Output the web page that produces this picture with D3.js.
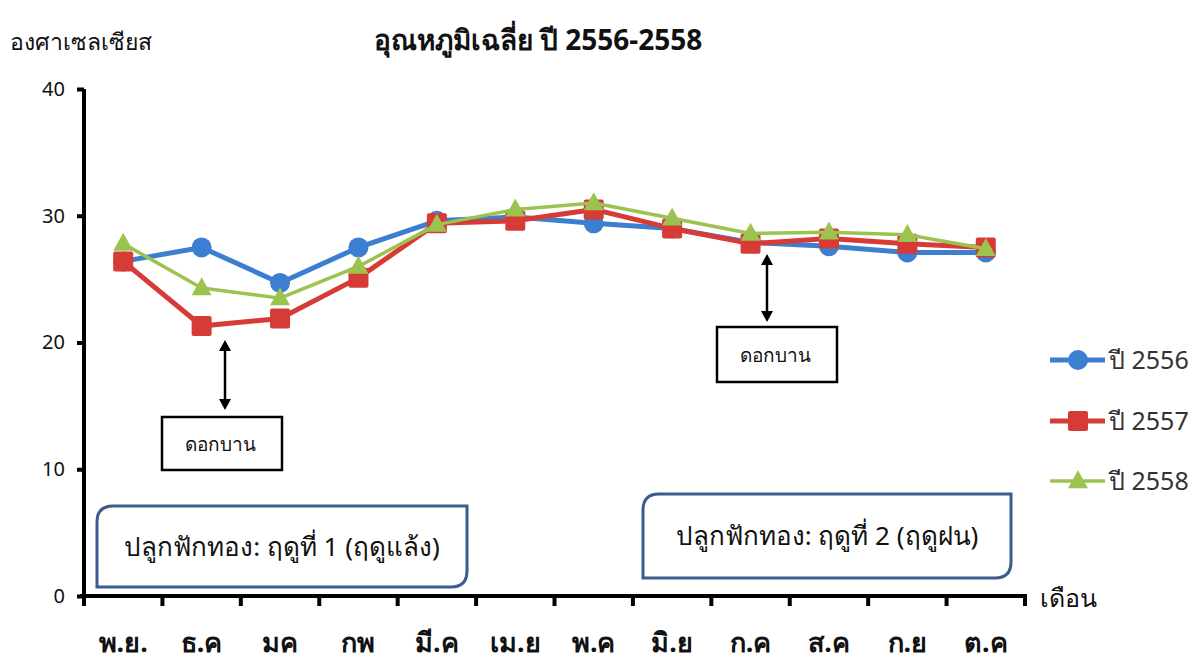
<!DOCTYPE html>
<html>
<head>
<meta charset="utf-8">
<script src="https://cdn.jsdelivr.net/npm/d3@7/dist/d3.min.js"></script>
<style>
  html, body { margin: 0; padding: 0; background: #ffffff; }
  svg { display: block; font-family: "Noto Sans", "Open Sans", sans-serif; }
</style>
</head>
<body>
<svg id="chart" width="1197" height="661"></svg>
<script>
// Months of the growing year (Nov – Oct)
const months = ["พ.ย.", "ธ.ค", "มค", "กพ", "มี.ค", "เม.ย", "พ.ค", "มิ.ย", "ก.ค", "ส.ค", "ก.ย", "ต.ค"];

// Mean monthly temperature, °C
const year2556 = [26.4, 27.5, 24.7, 27.5, 29.6, 29.9, 29.4, 29.0, 27.9, 27.6, 27.1, 27.1];
const year2557 = [26.4, 21.3, 21.9, 25.1, 29.4, 29.6, 30.5, 29.0, 27.8, 28.2, 27.8, 27.5];
const year2558 = [27.8, 24.3, 23.5, 26.0, 29.3, 30.5, 31.0, 29.8, 28.6, 28.7, 28.5, 27.4];

const seriesNames = ["ปี 2556", "ปี 2557", "ปี 2558"];
const yTicks = [0, 10, 20, 30, 40];

const colors = ["#3c7fd0", "#d63b36", "#9cc34f"];
const series = [year2556, year2557, year2558].map((values, i) => ({
  name: seriesNames[i], values, color: colors[i],
  shape: ["circle", "square", "triangle"][i],
  width: [5, 5, 3.5][i]
}));

const svg = d3.select("#chart");
const plot = { left: 84, right: 1025, top: 89, bottom: 596 };

const x = d3.scaleBand().domain(months).range([plot.left, plot.right]);
const y = d3.scaleLinear().domain([0, 40]).range([plot.bottom, plot.top]);

// Titles
svg.append("text").attr("x", 538).attr("y", 50).attr("text-anchor", "middle")
  .attr("font-size", 28).attr("font-weight", "bold").attr("fill", "#111")
  .text("อุณหภูมิเฉลี่ย ปี 2556-2558");
svg.append("text").attr("x", 10).attr("y", 50)
  .attr("font-size", 23).attr("fill", "#111").text("องศาเซลเซียส");

// Season boxes (diagonal rounded corners)
function diagBox(x0, y0, x1, y1, r) {
  return `M${x0 + r},${y0} L${x1},${y0} L${x1},${y1 - r} Q${x1},${y1} ${x1 - r},${y1} ` +
         `L${x0},${y1} L${x0},${y0 + r} Q${x0},${y0} ${x0 + r},${y0} Z`;
}
const seasons = [
  { box: [97, 506, 467, 587], text: "ปลูกฟักทอง: ฤดูที่ 1 (ฤดูแล้ง)" },
  { box: [643, 494, 1011, 578], text: "ปลูกฟักทอง: ฤดูที่ 2 (ฤดูฝน)" }
];
seasons.forEach(s => {
  const [x0, y0, x1, y1] = s.box;
  svg.append("path").attr("d", diagBox(x0, y0, x1, y1, 16))
    .attr("fill", "#fff").attr("stroke", "#3d5b8c").attr("stroke-width", 3);
  svg.append("text").attr("x", (x0 + x1) / 2).attr("y", (y0 + y1) / 2 + 9)
    .attr("text-anchor", "middle").attr("font-size", 26).attr("fill", "#111")
    .text(s.text);
});

// Axes
const yAxis = d3.axisLeft(y).tickValues(yTicks).tickSize(7).tickPadding(12);
const gy = svg.append("g").attr("transform", `translate(${plot.left},0)`).call(yAxis);
gy.select(".domain").attr("stroke", "#000").attr("stroke-width", 4)
  .attr("d", `M0,${plot.top}V${plot.bottom}`);
gy.selectAll(".tick line").attr("stroke", "#000").attr("stroke-width", 4);
gy.selectAll(".tick text").attr("font-size", 20).attr("fill", "#111")
  .attr("font-family", "Noto Sans, sans-serif");

const boundaries = months.map(m => x(m)).concat([plot.right]);
const gx = svg.append("g");
gx.append("line").attr("x1", plot.left - 4).attr("x2", plot.right + 2)
  .attr("y1", plot.bottom).attr("y2", plot.bottom)
  .attr("stroke", "#000").attr("stroke-width", 4);
gx.selectAll("line.tk").data(boundaries).join("line").attr("class", "tk")
  .attr("x1", d => d).attr("x2", d => d)
  .attr("y1", plot.bottom).attr("y2", plot.bottom + 10)
  .attr("stroke", "#000").attr("stroke-width", 4);
gx.selectAll("text").data(months).join("text")
  .attr("x", d => x(d) + x.bandwidth() / 2).attr("y", 652)
  .attr("text-anchor", "middle").attr("font-size", 27).attr("font-weight", "bold")
  .attr("fill", "#111").text(d => d);
svg.append("text").attr("x", 1040).attr("y", 607)
  .attr("font-size", 25).attr("fill", "#111").text("เดือน");

// Flowering annotations
function doubleArrow(xp, ya, yb) {
  const g = svg.append("g");
  g.append("line").attr("x1", xp).attr("x2", xp).attr("y1", ya + 8).attr("y2", yb - 8)
    .attr("stroke", "#000").attr("stroke-width", 2.5);
  g.append("path").attr("d", `M${xp},${ya} L${xp - 6},${ya + 11} L${xp + 6},${ya + 11} Z`).attr("fill", "#000");
  g.append("path").attr("d", `M${xp},${yb} L${xp - 6},${yb - 11} L${xp + 6},${yb - 11} Z`).attr("fill", "#000");
}
const bloom = [
  { box: [162, 417, 282, 470], arrow: [225, 340, 410] },
  { box: [717, 327, 837, 382], arrow: [767, 254, 322] }
];
bloom.forEach(b => {
  const [x0, y0, x1, y1] = b.box;
  svg.append("rect").attr("x", x0).attr("y", y0).attr("width", x1 - x0).attr("height", y1 - y0)
    .attr("fill", "#fff").attr("stroke", "#000").attr("stroke-width", 2.5);
  svg.append("text").attr("x", (x0 + x1) / 2 - 2).attr("y", (y0 + y1) / 2 + 7)
    .attr("text-anchor", "middle").attr("font-size", 19).attr("fill", "#111").text("ดอกบาน");
  doubleArrow(...b.arrow);
});

// Markers
function marker(g, shape, color, cx, cy, s) {
  if (shape === "circle") {
    g.append("circle").attr("cx", cx).attr("cy", cy).attr("r", 10 * s).attr("fill", color);
  } else if (shape === "square") {
    g.append("rect").attr("x", cx - 10 * s).attr("y", cy - 10 * s)
      .attr("width", 20 * s).attr("height", 20 * s).attr("rx", 2).attr("fill", color);
  } else {
    const h = 18 * s, w = 20 * s;
    g.append("path").attr("d", `M${cx},${cy - h * 0.6} L${cx + w / 2},${cy + h * 0.4} L${cx - w / 2},${cy + h * 0.4} Z`)
      .attr("fill", color);
  }
}

const cxOf = m => x(m) + x.bandwidth() / 2;
const line = d3.line().x((d, i) => cxOf(months[i])).y(d => y(d));

series.forEach(s => {
  const g = svg.append("g");
  g.append("path").datum(s.values).attr("d", line)
    .attr("fill", "none").attr("stroke", s.color).attr("stroke-width", s.width)
    .attr("stroke-linejoin", "round");
  s.values.forEach((v, i) => marker(g, s.shape, s.color, cxOf(months[i]), y(v), 1));
});

// Legend
const legendY = [360, 421, 481];
series.forEach((s, i) => {
  const g = svg.append("g");
  g.append("line").attr("x1", 1050).attr("x2", 1105).attr("y1", legendY[i]).attr("y2", legendY[i])
    .attr("stroke", s.color).attr("stroke-width", s.width);
  marker(g, s.shape, s.color, 1078, legendY[i], 1);
  g.append("text").attr("x", 1109).attr("y", legendY[i] + 9)
    .attr("font-size", 25).attr("fill", "#333").text(s.name);
});
</script>
</body>
</html>
